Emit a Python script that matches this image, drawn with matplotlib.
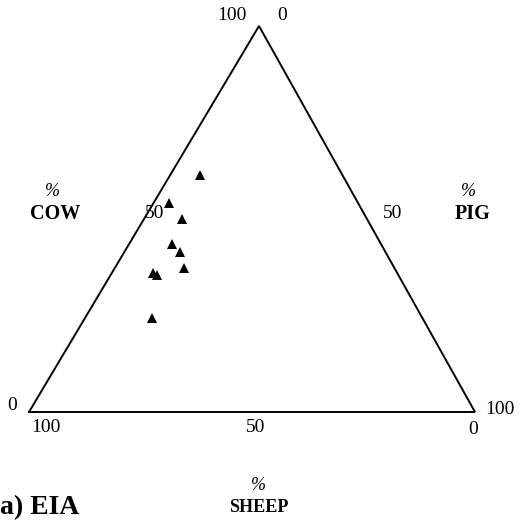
import numpy as np
import matplotlib
matplotlib.use("Agg")
import matplotlib.pyplot as plt

# Composition of bone assemblages (percent of COW / PIG / SHEEP)
cow = [61.4, 54.1, 50.0, 43.5, 41.5, 37.3, 36.0, 35.5, 24.4]
pig = [6.7, 3.5, 8.5, 9.6, 12.5, 15.5, 9.2, 10.4, 15.0]
sheep = [100 - c - p for c, p in zip(cow, pig)]

axis_ticks = [0, 50, 100]

# Apex of the diagram sits slightly right of centre
APEX_X = 230.0 / 446.0
APEX_Y = 386.0 / 446.0


def tern_xy(c, p):
    """Ternary (cow, pig) percentages -> cartesian; cow at the top vertex,
    pig at bottom right, sheep at bottom left."""
    c = np.asarray(c) / 100.0
    p = np.asarray(p) / 100.0
    return p + c * APEX_X, c * APEX_Y


W, H = 523, 524
fig = plt.figure(figsize=(W / 100, H / 100), dpi=100)
ax = fig.add_axes([0, 0, 1, 1])
scale = 446.0  # pixels per unit side
x0_px, y0_px = 29.0, 412.0
ax.set_xlim(-x0_px / scale, (W - x0_px) / scale)
ax.set_ylim(-(H - y0_px) / scale, y0_px / scale)
ax.axis("off")


def px(xp, yp):
    return (xp - x0_px) / scale, (y0_px - yp) / scale


serif = "Liberation Serif"

# Triangle frame
vx, vy = tern_xy([0, 0, 100, 0], [0, 100, 0, 0])
ax.plot(vx, vy, color="black", lw=1.4, solid_joinstyle="miter")

# Data points
xs, ys = tern_xy(cow, pig)
ax.plot(xs, ys, linestyle="none", marker="^", markersize=7.8,
        color="black", markeredgewidth=0)

num_kw = dict(fontsize=14, family=serif, ha="center", va="center")

# Left edge (COW): 0 at bottom-left, 100 at top
ax.text(*px(12, 405), str(axis_ticks[0]), **num_kw)
ax.text(*px(155, 213), str(axis_ticks[1]), **num_kw)
ax.text(*px(232, 15), str(axis_ticks[2]), **num_kw)

# Right edge (PIG): 0 at top, 100 at bottom-right
ax.text(*px(282, 15), str(axis_ticks[0]), **num_kw)
ax.text(*px(393, 213), str(axis_ticks[1]), **num_kw)
ax.text(*px(500, 410), str(axis_ticks[2]), **num_kw)

# Bottom edge (SHEEP): 100 at bottom-left, 0 at bottom-right
ax.text(*px(46, 428), str(axis_ticks[2]), **num_kw)
ax.text(*px(256, 428), str(axis_ticks[1]), **num_kw)
ax.text(*px(473, 429), str(axis_ticks[0]), **num_kw)

pct_kw = dict(fontsize=13, family=serif, style="italic", ha="center", va="center")

ax.text(*px(52, 191), "%", **pct_kw)
ax.text(*px(55, 214), "COW", fontsize=14.5, family=serif, weight="bold",
        ha="center", va="center")

ax.text(*px(468, 191), "%", **pct_kw)
ax.text(*px(473, 214), "PIG", fontsize=14.5, family=serif, weight="bold",
        ha="center", va="center")

ax.text(*px(258, 486), "%", **pct_kw)
ax.text(*px(259, 508), "SHEEP", fontsize=13, family=serif, weight="bold",
        ha="center", va="center")

ax.text(*px(0, 508), "a) EIA", fontsize=20, family=serif, weight="bold",
        ha="left", va="center")

fig.savefig("out.png", dpi=100)
